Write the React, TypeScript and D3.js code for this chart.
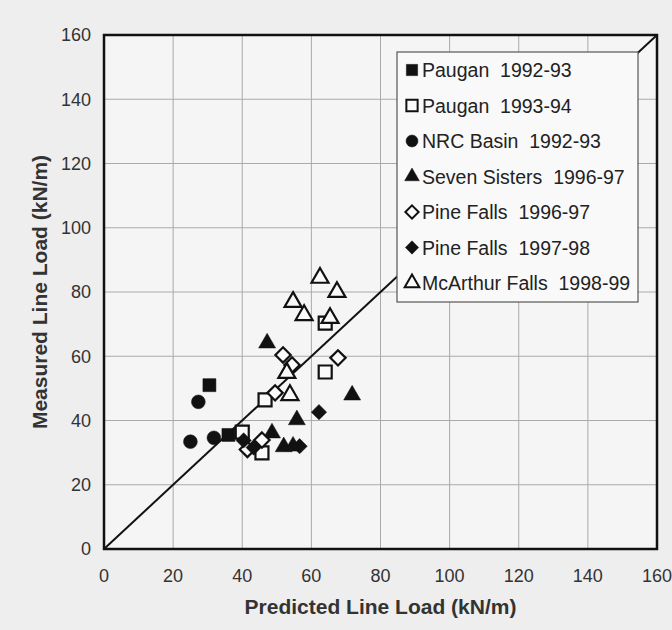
import React, { useEffect, useRef } from 'react';
import * as d3 from 'd3';

// [predicted, measured] in kN/m
const paugan9293: [number, number][] = [[30.5, 51], [36, 35.5]];
const paugan9394: [number, number][] = [[64, 70.3], [64, 55.1], [46.6, 46.4], [40, 36.4], [45.7, 29.9]];
const nrcBasin9293: [number, number][] = [[25, 33.4], [27.3, 45.8], [31.8, 34.6]];
const sevenSisters9697: [number, number][] = [[47.2, 64.1], [71.8, 47.9], [55.8, 40.2], [48.6, 36.1], [52, 31.8], [54.7, 32]];
const pineFalls9697: [number, number][] = [[51.8, 60.4], [54.4, 57.3], [67.7, 59.5], [49.5, 48.6], [45.7, 33.9], [41.5, 31]];
const pineFalls9798: [number, number][] = [[62.2, 42.6], [40.4, 33.8], [43.3, 31.6], [56.6, 32]];
const mcarthur9899: [number, number][] = [[62.5, 84.4], [67.4, 80], [54.7, 76.9], [57.9, 72.8], [65.4, 71.9], [52.9, 54.8], [53.8, 47.9]];

const seriesLabels = [
  'Paugan  1992-93',
  'Paugan  1993-94',
  'NRC Basin  1992-93',
  'Seven Sisters  1996-97',
  'Pine Falls  1996-97',
  'Pine Falls  1997-98',
  'McArthur Falls  1998-99',
];
const seriesData = [paugan9293, paugan9394, nrcBasin9293, sevenSisters9697, pineFalls9697, pineFalls9798, mcarthur9899];
const seriesShapes = ['square', 'square', 'circle', 'triangle', 'diamond', 'diamond', 'triangle'];
const seriesFilled = [true, false, true, true, false, true, false];

const axisTicks = [0, 20, 40, 60, 80, 100, 120, 140, 160];

const FONT = '"Liberation Sans", Arial, Helvetica, sans-serif';

function symbolFor(shape: string, scale: number) {
  const t = shape === 'square' ? d3.symbolSquare
    : shape === 'circle' ? d3.symbolCircle
    : shape === 'triangle' ? d3.symbolTriangle
    : d3.symbolDiamond2;
  const size = shape === 'square' ? 169
    : shape === 'circle' ? 150
    : shape === 'triangle' ? 125
    : 150;
  return d3.symbol().type(t).size(size * scale)();
}

export default function App() {
  const svgRef = useRef<SVGSVGElement>(null);

  useEffect(() => {
    if (!svgRef.current) return;
    d3.select(svgRef.current).selectAll('*').remove();

    const width = 672;
    const height = 630;
    const left = 104, right = 657, top = 35, bottom = 549;

    const svg = d3.select(svgRef.current)
      .attr('width', width)
      .attr('height', height);

    svg.append('rect')
      .attr('width', width)
      .attr('height', height)
      .attr('fill', '#eeeeee');

    const x = d3.scaleLinear().domain([0, 160]).range([left, right]);
    const y = d3.scaleLinear().domain([0, 160]).range([bottom, top]);

    svg.append('rect')
      .attr('x', left).attr('y', top)
      .attr('width', right - left).attr('height', bottom - top)
      .attr('fill', '#f5f5f5');

    // grid
    const inner = axisTicks.slice(1, -1);
    svg.append('g').selectAll('line.v')
      .data(inner).enter().append('line')
      .attr('x1', d => x(d)).attr('x2', d => x(d))
      .attr('y1', top).attr('y2', bottom)
      .attr('stroke', '#aaaaaa').attr('stroke-width', 1);
    svg.append('g').selectAll('line.h')
      .data(inner).enter().append('line')
      .attr('y1', d => y(d)).attr('y2', d => y(d))
      .attr('x1', left).attr('x2', right)
      .attr('stroke', '#aaaaaa').attr('stroke-width', 1);

    // 1:1 line
    svg.append('line')
      .attr('x1', x(0)).attr('y1', y(0))
      .attr('x2', x(160)).attr('y2', y(160))
      .attr('stroke', '#111').attr('stroke-width', 2);

    // points
    seriesData.forEach((pts, i) => {
      const path = symbolFor(seriesShapes[i], 1);
      svg.append('g').selectAll('path')
        .data(pts).enter().append('path')
        .attr('d', path)
        .attr('transform', d => `translate(${x(d[0])},${y(d[1])})`)
        .attr('fill', seriesFilled[i] ? '#111' : '#fafafa')
        .attr('stroke', '#111')
        .attr('stroke-width', seriesFilled[i] ? 0.5 : 2.2);
    });

    // frame
    svg.append('rect')
      .attr('x', left).attr('y', top)
      .attr('width', right - left).attr('height', bottom - top)
      .attr('fill', 'none')
      .attr('stroke', '#111').attr('stroke-width', 2.5);

    // tick labels
    svg.append('g').selectAll('text')
      .data(axisTicks).enter().append('text')
      .attr('x', d => x(d)).attr('y', bottom + 33)
      .attr('text-anchor', 'middle')
      .style('font-family', FONT).style('font-size', '18px')
      .attr('fill', '#333')
      .text(d => d);
    svg.append('g').selectAll('text')
      .data(axisTicks).enter().append('text')
      .attr('x', left - 13).attr('y', d => y(d))
      .attr('dy', '0.36em')
      .attr('text-anchor', 'end')
      .style('font-family', FONT).style('font-size', '18px')
      .attr('fill', '#333')
      .text(d => d);

    // axis titles
    svg.append('text')
      .attr('x', (left + right) / 2).attr('y', 614)
      .attr('text-anchor', 'middle')
      .style('font-family', FONT).style('font-size', '21px').style('font-weight', 'bold')
      .attr('fill', '#333')
      .text('Predicted Line Load (kN/m)');
    svg.append('text')
      .attr('transform', `translate(47,${(top + bottom) / 2}) rotate(-90)`)
      .attr('text-anchor', 'middle')
      .style('font-family', FONT).style('font-size', '21px').style('font-weight', 'bold')
      .attr('fill', '#333')
      .text('Measured Line Load (kN/m)');

    // legend
    const lg = svg.append('g');
    lg.append('rect')
      .attr('x', 397).attr('y', 52)
      .attr('width', 241).attr('height', 250)
      .attr('fill', '#f9f9f9')
      .attr('stroke', '#555').attr('stroke-width', 1.2);
    const rows = lg.selectAll('g.row')
      .data(seriesLabels).enter().append('g')
      .attr('transform', (_, i) => `translate(412,${70 + i * 35.5})`);
    rows.append('path')
      .attr('d', (_, i) => symbolFor(seriesShapes[i], 0.75))
      .attr('fill', (_, i) => seriesFilled[i] ? '#111' : '#fafafa')
      .attr('stroke', '#111')
      .attr('stroke-width', (_, i) => seriesFilled[i] ? 0.5 : 2);
    rows.append('text')
      .attr('x', 10).attr('dy', '0.36em')
      .style('font-family', FONT).style('font-size', '19.5px')
      .style('white-space', 'pre')
      .attr('fill', '#222')
      .text(d => d);
  }, []);

  return (
    <svg ref={svgRef} style={{ position: 'absolute', left: 0, top: 0, display: 'block' }}></svg>
  );
}
